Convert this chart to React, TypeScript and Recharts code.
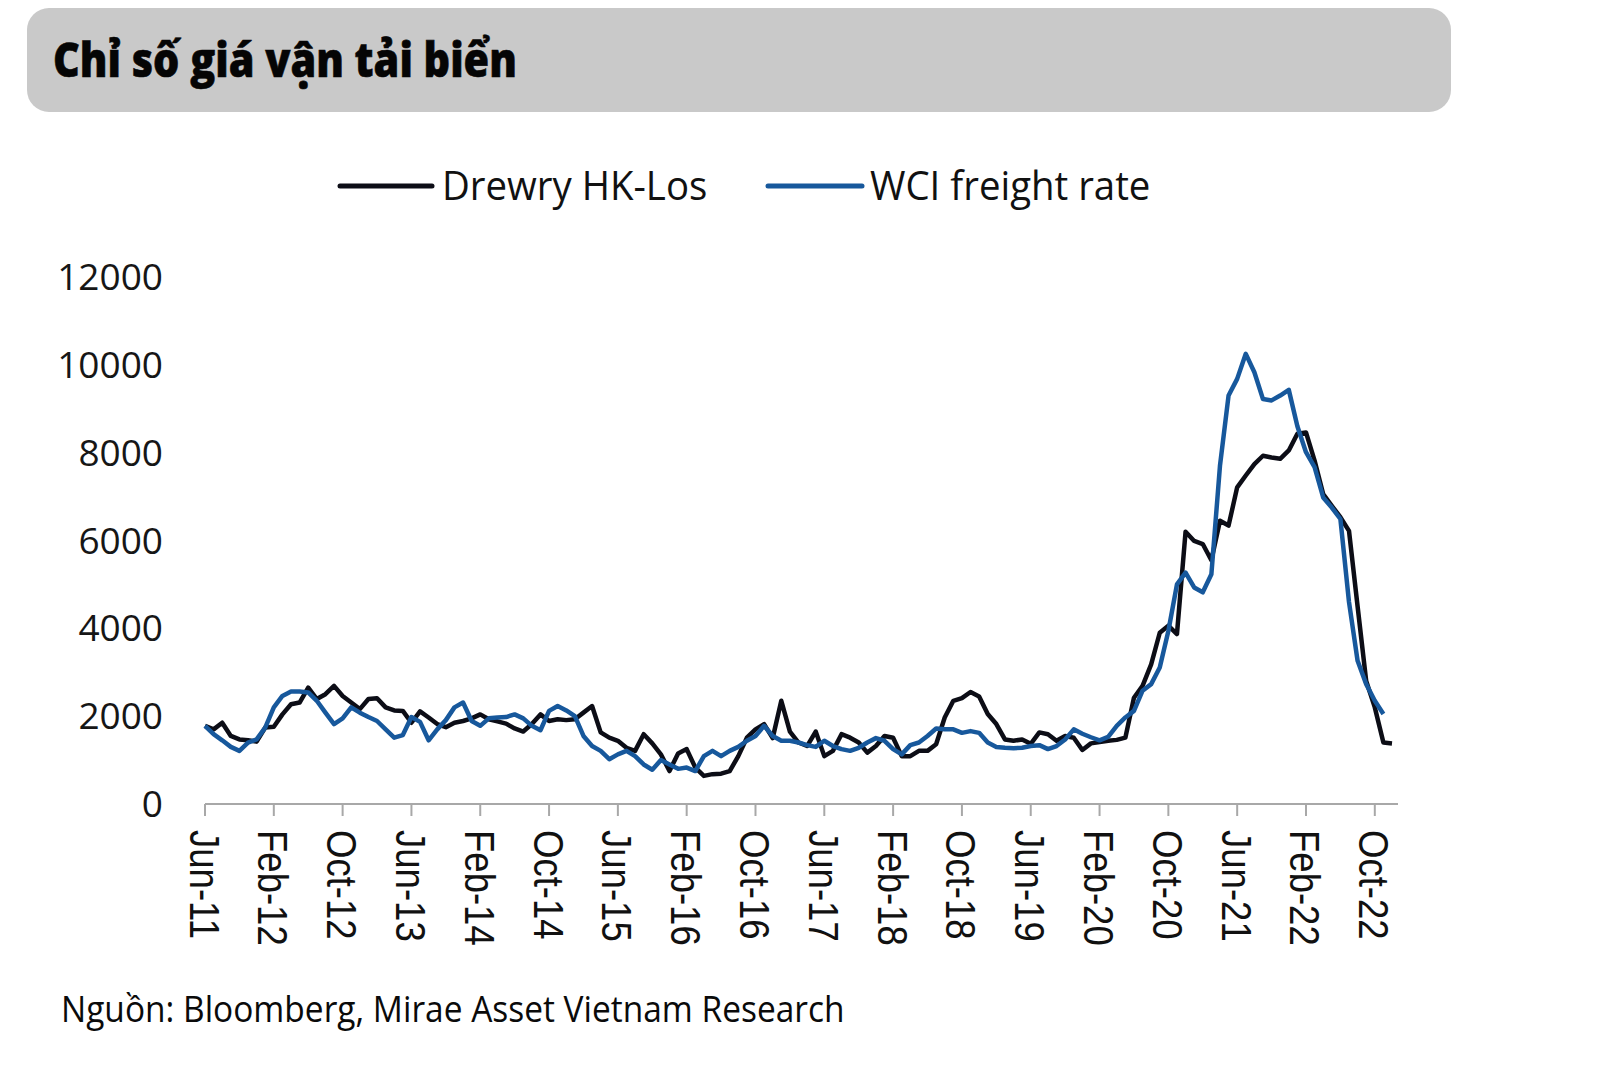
import React from 'react';
import { LineChart, Line, XAxis, YAxis } from 'recharts';

const TITLE = 'Chỉ số giá vận tải biển';
const SOURCE = 'Nguồn: Bloomberg, Mirae Asset Vietnam Research';

const CATEGORIES = [
  'Jun-11','Jul-11','Aug-11','Sep-11','Oct-11','Nov-11','Dec-11',
  'Jan-12','Feb-12','Mar-12','Apr-12','May-12','Jun-12','Jul-12','Aug-12','Sep-12','Oct-12','Nov-12','Dec-12',
  'Jan-13','Feb-13','Mar-13','Apr-13','May-13','Jun-13','Jul-13','Aug-13','Sep-13','Oct-13','Nov-13','Dec-13',
  'Jan-14','Feb-14','Mar-14','Apr-14','May-14','Jun-14','Jul-14','Aug-14','Sep-14','Oct-14','Nov-14','Dec-14',
  'Jan-15','Feb-15','Mar-15','Apr-15','May-15','Jun-15','Jul-15','Aug-15','Sep-15','Oct-15','Nov-15','Dec-15',
  'Jan-16','Feb-16','Mar-16','Apr-16','May-16','Jun-16','Jul-16','Aug-16','Sep-16','Oct-16','Nov-16','Dec-16',
  'Jan-17','Feb-17','Mar-17','Apr-17','May-17','Jun-17','Jul-17','Aug-17','Sep-17','Oct-17','Nov-17','Dec-17',
  'Jan-18','Feb-18','Mar-18','Apr-18','May-18','Jun-18','Jul-18','Aug-18','Sep-18','Oct-18','Nov-18','Dec-18',
  'Jan-19','Feb-19','Mar-19','Apr-19','May-19','Jun-19','Jul-19','Aug-19','Sep-19','Oct-19','Nov-19','Dec-19',
  'Jan-20','Feb-20','Mar-20','Apr-20','May-20','Jun-20','Jul-20','Aug-20','Sep-20','Oct-20','Nov-20','Dec-20',
  'Jan-21','Feb-21','Mar-21','Apr-21','May-21','Jun-21','Jul-21','Aug-21','Sep-21','Oct-21','Nov-21','Dec-21',
  'Jan-22','Feb-22','Mar-22','Apr-22','May-22','Jun-22','Jul-22','Aug-22','Sep-22','Oct-22','Nov-22','Dec-22',
];

const DREWRY = [
  1780, 1700, 1850, 1550, 1470, 1450, 1420,
  1740, 1760, 2040, 2270, 2310, 2650, 2390, 2500, 2690, 2460, 2310, 2160,
  2390, 2410, 2200, 2130, 2120, 1850, 2110, 1970, 1820, 1750, 1850, 1890,
  1950, 2040, 1930, 1880, 1830, 1720, 1650, 1820, 2040, 1890, 1930, 1910,
  1930, 2080, 2230, 1630, 1510, 1440, 1280, 1210, 1590, 1380, 1130, 750,
  1150, 1250, 830, 640, 680, 690, 750, 1090, 1510, 1700, 1820, 1500,
  2350, 1650, 1400, 1320, 1650, 1090, 1210, 1590, 1510, 1400, 1170, 1320,
  1550, 1510, 1090, 1090, 1210, 1210, 1360, 1970, 2350, 2410, 2550, 2450,
  2050, 1820, 1470, 1440, 1470, 1370, 1630, 1590, 1440, 1550, 1510, 1230,
  1380, 1410, 1440, 1460, 1510, 2420, 2690, 3180, 3900, 4060, 3870, 6200,
  5990, 5920, 5550, 6450, 6340, 7210, 7480, 7740, 7930, 7890, 7860, 8050,
  8430, 8460, 7820, 7060, 6790, 6530, 6220, 4500, 2800, 2200, 1400, 1380,
];

const WCI = [
  1780, 1590, 1450, 1300, 1210, 1400, 1470,
  1740, 2200, 2460, 2560, 2560, 2540, 2350, 2080, 1820, 1950, 2200, 2080,
  1980, 1890, 1700, 1510, 1570, 1980, 1870, 1450, 1700, 1910, 2200, 2310,
  1890, 1780, 1950, 1970, 1980, 2040, 1950, 1780, 1680, 2120, 2230, 2130,
  2000, 1550, 1320, 1210, 1020, 1130, 1210, 1090, 900, 780, 1000, 900,
  800, 830, 750, 1090, 1210, 1090, 1210, 1300, 1440, 1550, 1780, 1550,
  1440, 1440, 1400, 1340, 1300, 1440, 1320, 1250, 1210, 1280, 1400, 1500,
  1440, 1250, 1130, 1340, 1400, 1550, 1720, 1700, 1700, 1620, 1660, 1620,
  1400, 1300, 1280, 1270, 1280, 1320, 1340, 1250, 1320, 1470, 1700, 1600,
  1520, 1450, 1530, 1780, 1970, 2120, 2580, 2730, 3110, 3940, 5000, 5270,
  4930, 4820, 5230, 7700, 9300, 9680, 10250, 9830, 9220, 9190, 9300, 9430,
  8600, 8010, 7670, 6980, 6750, 6490, 4600, 3260, 2730, 2350, 2050, null,
];

const Y_TICKS = [0, 2000, 4000, 6000, 8000, 10000, 12000];

const SERIES = [
  { key: 'drewry', name: 'Drewry HK-Los', color: '#0c0d16' },
  { key: 'wci', name: 'WCI freight rate', color: '#17589c' },
];

const data = CATEGORIES.map((month, i) => ({
  month,
  drewry: DREWRY[i],
  wci: WCI[i],
}));

const XTick = (props: any) => {
  const { x, y, payload } = props;
  return (
    <g transform={`translate(${x},${y})`}>
      <text
        transform="rotate(90) scale(0.85,1)"
        x={0}
        y={0}
        dy="0.36em"
        textAnchor="start"
        fontFamily="'Liberation Sans', Arial, sans-serif"
        fontSize={43}
        fill="#111"
      >
        {payload.value}
      </text>
    </g>
  );
};

const YTick = (props: any) => {
  const { x, y, payload } = props;
  return (
    <text
      x={x}
      y={y}
      dy="0.355em"
      textAnchor="end"
      fontFamily="'Open Sans', sans-serif"
      fontSize={37}
      fill="#161616"
    >
      {payload.value}
    </text>
  );
};

const LEGEND_POS = [
  { lineX: 340, lineW: 92, textX: 442 },
  { lineX: 768, lineW: 94, textX: 870 },
];

export default function App() {
  return (
    <div style={{ position: 'absolute', left: 0, top: 0, width: 1600, height: 1068, background: '#ffffff' }}>
      <svg width={1600} height={1068} style={{ position: 'absolute', left: 0, top: 0 }}>
        <rect x={27} y={8} width={1424} height={104} rx={22} ry={22} fill="#c9c9c9" />
        <text
          transform="translate(53,77) scale(0.88,1)"
          fontFamily="'Open Sans', sans-serif"
          fontWeight={800}
          fontSize={47}
          fill="#050505"
          stroke="#050505"
          strokeWidth={0.6}
        >
          {TITLE}
        </text>
        {SERIES.map((s, i) => (
          <g key={s.key}>
            <line
              x1={LEGEND_POS[i].lineX}
              x2={LEGEND_POS[i].lineX + LEGEND_POS[i].lineW}
              y1={186}
              y2={186}
              stroke={s.color}
              strokeWidth={5}
              strokeLinecap="round"
            />
            <text
              transform={`translate(${LEGEND_POS[i].textX},200) scale(0.96,1)`}
              fontFamily="'Open Sans', sans-serif"
              fontSize={40}
              fill="#111"
            >
              {s.name}
            </text>
          </g>
        ))}
        <text
          transform="translate(61,1022) scale(0.93,1)"
          fontFamily="'Open Sans', sans-serif"
          fontWeight={500}
          fontSize={36}
          fill="#0a0a0a"
        >
          {SOURCE}
        </text>
      </svg>
      <div style={{ position: 'absolute', left: 0, top: 0 }}>
        <LineChart
          width={1600}
          height={1068}
          data={data}
          margin={{ top: 277, right: 202, bottom: 104, left: 0 }}
        >
          <XAxis
            dataKey="month"
            scale="point"
            padding={{ left: 0, right: 6 }}
            interval={7}
            height={160}
            tickSize={12}
            tickMargin={14}
            axisLine={{ stroke: '#a8a8a8', strokeWidth: 2 }}
            tickLine={{ stroke: '#a8a8a8', strokeWidth: 2 }}
            tick={XTick}
          />
          <YAxis
            width={205}
            domain={[0, 12000]}
            ticks={Y_TICKS}
            interval={0}
            axisLine={false}
            tickLine={false}
            tickSize={0}
            tickMargin={42}
            tick={YTick}
          />
          {SERIES.map((s) => (
            <Line
              key={s.key}
              type="linear"
              dataKey={s.key}
              name={s.name}
              stroke={s.color}
              strokeWidth={4.5}
              strokeLinejoin="round"
              dot={false}
              activeDot={false}
              isAnimationActive={false}
            />
          ))}
        </LineChart>
      </div>
    </div>
  );
}
